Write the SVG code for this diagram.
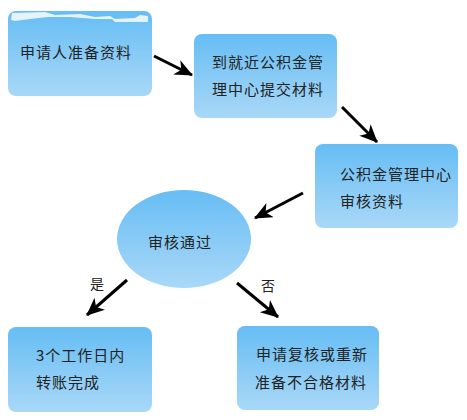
<svg xmlns="http://www.w3.org/2000/svg" width="467" height="420" viewBox="0 0 467 420">
<defs>
<linearGradient id="g" x1="0" y1="0" x2="0" y2="1">
<stop offset="0" stop-color="#66bdf4"/>
<stop offset="1" stop-color="#a9d8f7"/>
</linearGradient>
<marker id="ah" markerUnits="userSpaceOnUse" markerWidth="20" markerHeight="18" refX="17" refY="8" orient="auto">
<path d="M0,0 L18,8 L0,16 L5,8 z" fill="#000"/>
</marker>
<style>
.box{fill:url(#g);}
.t{font-family:"Noto Sans CJK SC","Liberation Sans",sans-serif;font-size:15px;fill:#222;letter-spacing:1px;}
.lbl{font-family:"Noto Sans CJK SC","Liberation Sans",sans-serif;font-size:14px;fill:#222;}
.c{stroke:#000;stroke-width:3;fill:none;marker-end:url(#ah);}
</style>
</defs>
<rect width="467" height="420" fill="#fff"/>
<g id="n1">
<rect class="box" x="8" y="11" width="144" height="85" rx="8"/>
<path d="M12,13 L45,12 L55,15 L80,14 L95,17 L110,16 L115,19 L135,18 L140,15 L148,16 L148,22 L130,22 L115,22 L112,19 L95,19 L70,17 L48,17 L30,19 L15,21 L11,20 z" fill="#e4f3fc"/>
<text class="t" x="20" y="58">申请人准备资料</text>
</g>
<g id="n2">
<rect class="box" x="194" y="34" width="143" height="84" rx="8"/>
<text class="t" x="212" y="68">到就近公积金管</text>
<text class="t" x="212" y="95">理中心提交材料</text>
</g>
<g id="n3">
<rect class="box" x="315" y="144" width="143" height="84" rx="8"/>
<text class="t" x="340" y="180">公积金管理中心</text>
<text class="t" x="340" y="207">审核资料</text>
</g>
<g id="n4">
<ellipse class="box" cx="184" cy="239" rx="67" ry="49"/>
<text class="t" x="148" y="248">审核通过</text>
</g>
<g id="n5">
<rect class="box" x="8" y="327" width="144" height="85" rx="8"/>
<text class="t" x="36" y="361">3个工作日内</text>
<text class="t" x="36" y="388">转账完成</text>
</g>
<g id="n6">
<rect class="box" x="237" y="326" width="142" height="84" rx="8"/>
<text class="t" x="256" y="360">申请复核或重新</text>
<text class="t" x="255" y="388">准备不合格材料</text>
</g>
<g id="connectors">
<line class="c" x1="154" y1="56" x2="192" y2="75"/>
<line class="c" x1="342" y1="107" x2="377" y2="142"/>
<line class="c" x1="303" y1="193" x2="255" y2="218"/>
<line class="c" x1="127" y1="280" x2="87" y2="315"/>
<line class="c" x1="237" y1="283" x2="278" y2="317"/>
<text class="lbl" x="90" y="289">是</text>
<text class="lbl" x="261" y="291">否</text>
</g>
</svg>
